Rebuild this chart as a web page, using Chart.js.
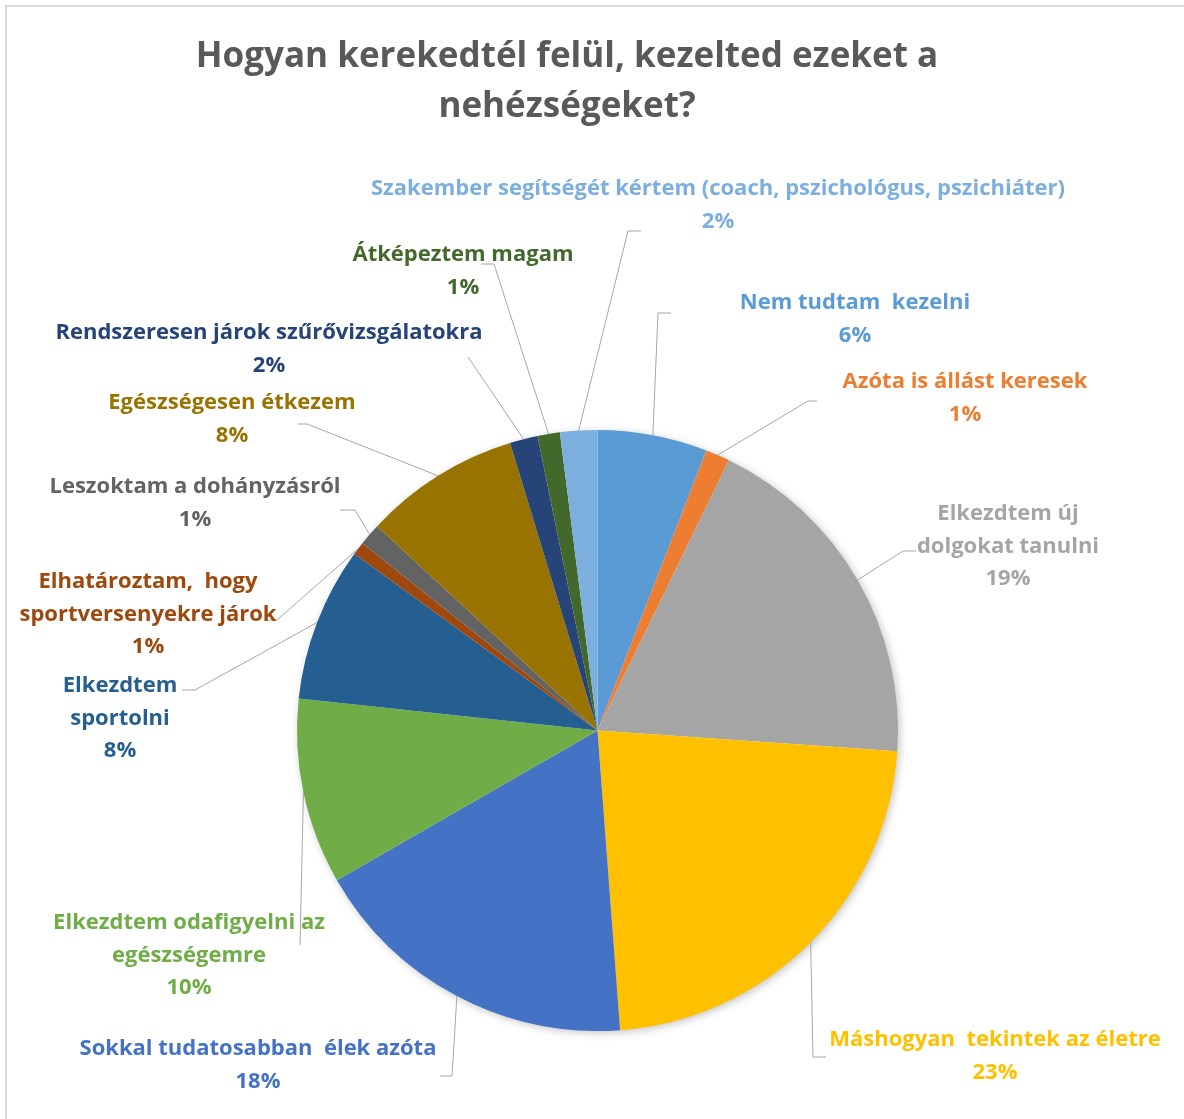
<!DOCTYPE html>
<html>
<head>
<meta charset="utf-8">
<script src="https://cdn.jsdelivr.net/npm/chart.js@4/dist/chart.umd.min.js"></script>
<style>
  html, body { margin: 0; padding: 0; background: #ffffff; }
  #wrap { position: relative; width: 1184px; height: 1119px; overflow: hidden; }
  #frame { position: absolute; left: 5px; top: 5px; width: 1300px; height: 1300px;
           border-top: 2px solid #D9D9D9; border-left: 2px solid #D9D9D9; box-sizing: border-box; }
  canvas { position: absolute; left: 0; top: 0; }
</style>
</head>
<body>
<div id="wrap">
  <div id="frame"></div>
  <canvas id="c" width="1184" height="1119"></canvas>
</div>
<script>
// ---- data ----
const titleLines = ["Hogyan kerekedtél felül, kezelted ezeket a", "nehézségeket?"];
const categories = [
  "Nem tudtam kezelni",
  "Azóta is állást keresek",
  "Elkezdtem új dolgokat tanulni",
  "Máshogyan tekintek az életre",
  "Sokkal tudatosabban  élek azóta",
  "Elkezdtem odafigyelni az egészségemre",
  "Elkezdtem sportolni",
  "Elhatároztam,  hogy sportversenyekre járok",
  "Leszoktam a dohányzásról",
  "Egészségesen étkezem",
  "Rendszeresen járok szűrővizsgálatokra",
  "Átképeztem magam",
  "Szakember segítségét kértem (coach, pszichológus, pszichiáter)"
];
const values = [5.9, 1.3, 18.9, 22.7, 17.9, 10.0, 8.3, 0.7, 1.2, 8.4, 1.5, 1.2, 2.0];
const colors = ["#5B9BD5", "#ED7D31", "#A5A5A5", "#FFC000", "#4472C4", "#70AD47",
                "#255E91", "#9E480E", "#636363", "#997300", "#264478", "#43682B", "#7CAFDD"];
// label text split into lines (text wrapping only)
const labelLines = [
  ["Nem tudtam  kezelni"],
  ["Azóta is állást keresek"],
  ["Elkezdtem új", "dolgokat tanulni"],
  ["Máshogyan  tekintek az életre"],
  ["Sokkal tudatosabban  élek azóta"],
  ["Elkezdtem odafigyelni az", "egészségemre"],
  ["Elkezdtem", "sportolni"],
  ["Elhatároztam,  hogy", "sportversenyekre járok"],
  ["Leszoktam a dohányzásról"],
  ["Egészségesen étkezem"],
  ["Rendszeresen járok szűrővizsgálatokra"],
  ["Átképeztem magam"],
  ["Szakember segítségét kértem (coach, pszichológus, pszichiáter)"]
];

// ---- label placement (layout only, pixel positions of text and leader elbows) ----
const labelLayout = [
  { text: [855, 301],  elbow: [658, 313], end: [671, 313] },
  { text: [965, 380],  elbow: [808, 401], end: [817, 401] },
  { text: [1008, 512], elbow: [903, 551], end: [916, 551] },
  { text: [995, 1038], elbow: [813, 1057], end: [826, 1057] },
  { text: [258, 1047], elbow: [452, 1076], end: [440, 1076] },
  { text: [189, 921],  elbow: [300, 945], end: [300, 945] },
  { text: [120, 684],  elbow: [195, 690], end: [182, 690] },
  { text: [148, 580],  elbow: [277, 620], end: [266, 620] },
  { text: [195, 485],  elbow: [355, 510], end: [340, 510] },
  { text: [232, 401],  elbow: [307, 424], end: [298, 424] },
  { text: [269, 331],  elbow: [468, 357], end: [468, 357] },
  { text: [463, 253],  elbow: [494, 264], end: [481, 264] },
  { text: [718, 187],  elbow: [628, 231], end: [641, 231] }
];

const FONT = "'Open Sans', Lato, 'DejaVu Sans', sans-serif";

const titlePlugin = {
  id: 'customTitle',
  afterDraw(chart) {
    const ctx = chart.ctx;
    ctx.save();
    ctx.fillStyle = '#595959';
    ctx.font = "bold 35px " + FONT;
    ctx.textAlign = 'center';
    ctx.textBaseline = 'middle';
    ctx.fillText(titleLines[0], 567, 57);
    ctx.fillText(titleLines[1], 567, 107);
    ctx.restore();
  }
};

const shadowPlugin = {
  id: 'pieShadow',
  beforeDatasetsDraw(chart) {
    const arc = chart.getDatasetMeta(0).data[0];
    if (!arc) return;
    const ctx = chart.ctx;
    ctx.save();
    ctx.shadowColor = 'rgba(0,0,0,0.28)';
    ctx.shadowBlur = 10;
    ctx.shadowOffsetX = 2;
    ctx.shadowOffsetY = 2;
    ctx.fillStyle = '#ffffff';
    ctx.beginPath();
    ctx.arc(arc.x, arc.y, arc.outerRadius - 1, 0, Math.PI * 2);
    ctx.fill();
    ctx.restore();
  }
};

const labelPlugin = {
  id: 'outLabels',
  afterDatasetsDraw(chart) {
    const meta = chart.getDatasetMeta(0);
    const ds = chart.data.datasets[0].data;
    const total = ds.reduce((a, b) => a + b, 0);
    const ctx = chart.ctx;
    ctx.save();
    meta.data.forEach((arc, i) => {
      const L = labelLayout[i];
      const mid = (arc.startAngle + arc.endAngle) / 2;
      const r = arc.outerRadius;
      const sx = arc.x + Math.cos(mid) * r;
      const sy = arc.y + Math.sin(mid) * r;
      ctx.strokeStyle = '#A6A6A6';
      ctx.lineWidth = 1;
      ctx.beginPath();
      ctx.moveTo(sx, sy);
      ctx.lineTo(L.elbow[0], L.elbow[1]);
      ctx.lineTo(L.end[0], L.end[1]);
      ctx.stroke();

      const lines = labelLines[i].concat([Math.round(ds[i] / total * 100) + '%']);
      ctx.fillStyle = colors[i];
      ctx.font = "bold 22px " + FONT;
      ctx.textAlign = 'center';
      ctx.textBaseline = 'middle';
      lines.forEach((t, k) => {
        ctx.fillText(t, L.text[0], L.text[1] + 2 + k * 32.5);
      });
    });
    ctx.restore();
  }
};

new Chart(document.getElementById('c'), {
  type: 'pie',
  data: {
    labels: categories,
    datasets: [{
      data: values,
      backgroundColor: colors,
      borderWidth: 0
    }]
  },
  options: {
    responsive: false,
    animation: false,
    layout: { padding: { left: 297, right: 286, top: 430, bottom: 88 } },
    plugins: {
      legend: { display: false },
      tooltip: { enabled: false },
      title: { display: false }
    }
  },
  plugins: [shadowPlugin, labelPlugin, titlePlugin]
});
</script>
</body>
</html>
